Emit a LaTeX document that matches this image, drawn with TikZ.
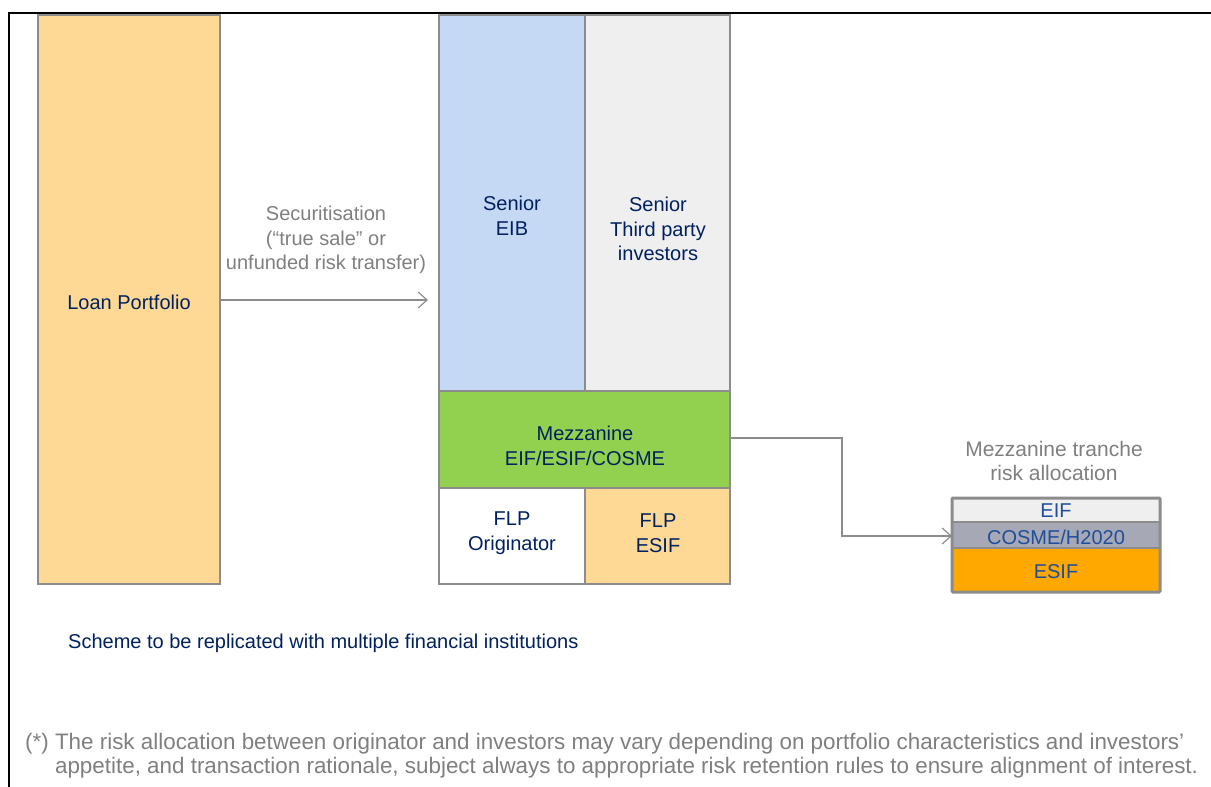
\documentclass[tikz,border=0pt]{standalone}
\usepackage{fontspec}
\setmainfont{Liberation Sans}
\usetikzlibrary{arrows.meta}
\definecolor{peach}{HTML}{FDD995}
\definecolor{ltblue}{HTML}{C5D9F4}
\definecolor{ltgray}{HTML}{EFEFEF}
\definecolor{mgreen}{HTML}{92D050}
\definecolor{navy}{HTML}{002060}
\definecolor{midblue}{HTML}{1F4E9A}
\definecolor{txtgray}{HTML}{7F7F7F}
\definecolor{bordgray}{HTML}{8C8C8C}
\definecolor{cosmegray}{HTML}{A6A8B6}
\definecolor{esiforange}{HTML}{FFA800}
\tikzset{
  x=1pt, y=-1pt,
  tranche/.style={draw=bordgray, line width=1.2pt},
  lbl/.style={text=navy, font=\fontsize{20}{24.5}\selectfont, align=center},
  glbl/.style={text=txtgray, font=\fontsize{20}{24.5}\selectfont, align=center},
  blbl/.style={text=midblue, font=\fontsize{20}{24.5}\selectfont, align=center},
  conn/.style={draw=txtgray!90, line width=1.2pt, -{Straight Barb[length=9pt, width=16pt, line width=1.2pt]}},
}
\begin{document}
\begin{tikzpicture}
\useasboundingbox (0,0) rectangle (1211,787);
% frame
\draw[line width=2.2pt, black] (9,787) |- (1211,13);
% loan portfolio
\draw[tranche, fill=peach] (38,15) rectangle (220,584);
\node[lbl] (loan) at (129,302) {Loan Portfolio};
% tranches
\draw[tranche, fill=ltblue] (439,15) rectangle (585,391);
\draw[tranche, fill=ltgray] (585,15) rectangle (730,391);
\draw[tranche, fill=mgreen] (439,391) rectangle (730,488);
\draw[tranche, fill=white] (439,488) rectangle (585,584);
\draw[tranche, fill=peach] (585,488) rectangle (730,584);
\node[lbl] (seib) at (512,216) {Senior\\EIB};
\node[lbl] (sthird) at (658,229) {Senior\\Third party\\investors};
\node[lbl] (mezz) at (585,446) {Mezzanine\\EIF/ESIF/COSME};
\node[lbl] (flpo) at (512,533) {FLP\\Originator};
\node[lbl] (flpe) at (658,533) {FLP\\ESIF};
% securitisation arrow
\coordinate (secA) at (220,300);
\coordinate (secB) at (428,300);
\draw[conn] (secA) -- (secB);
\node[glbl] (sec) at (326,240) {Securitisation\\(“true sale” or\\unfunded risk transfer)};
% allocation box
\fill[ltgray] (952,498) rectangle (1160,522);
\fill[cosmegray] (952,522) rectangle (1160,548);
\fill[esiforange] (952,548) rectangle (1160,592);
\draw[bordgray, line width=2.2pt] (952,522) -- (1160,522) (952,548) -- (1160,548);
\draw[bordgray, line width=3pt, rounded corners=1pt] (952,498) rectangle (1160,592);
\node[blbl] (eif) at (1056,511) {EIF};
\node[blbl] (cosme) at (1056,537) {COSME/H2020};
\node[blbl] (esif) at (1056,572) {ESIF};
\node[glbl, font=\fontsize{21}{24.5}\selectfont] (alloc) at (1054,461) {Mezzanine tranche\\risk allocation};
\coordinate (mzout) at (730,438);
\coordinate (bend1) at (842,438);
\coordinate (bend2) at (842,536);
\coordinate (allocin) at (952,536);
\draw[conn] (mzout) -- (bend1) -- (bend2) -- (allocin);
% texts
\node[text=navy, font=\fontsize{20}{24.5}\selectfont, anchor=west, inner sep=0pt] (scheme) at (68,643) {Scheme to be replicated with multiple financial institutions};
\node[text=txtgray, font=\fontsize{22.4}{24}\selectfont, anchor=north west, align=left, inner sep=0pt] (foot) at (25,733)
 {(*) The risk allocation between originator and investors may vary depending on portfolio characteristics and investors’\\
 \phantom{(*) }appetite, and transaction rationale, subject always to appropriate risk retention rules to ensure alignment of interest.};
\end{tikzpicture}
\end{document}
